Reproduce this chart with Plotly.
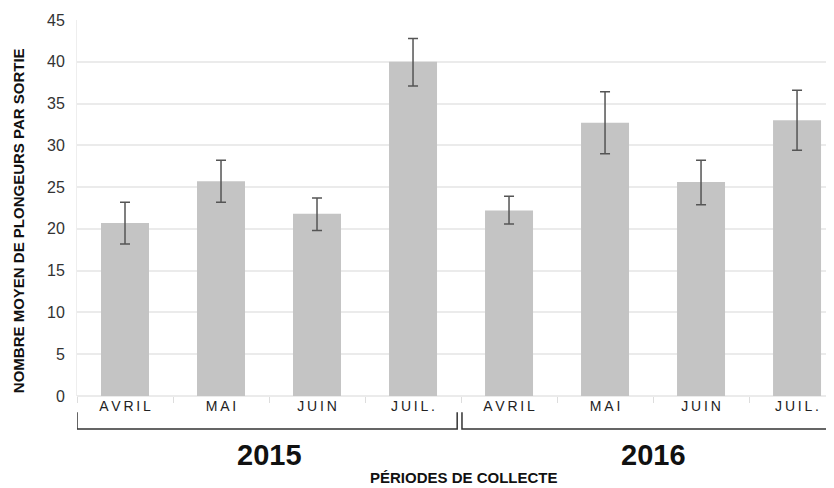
import plotly.graph_objects as go

# ─── data ─────────────────────────────────────────────────────────────────────
months = ["AVRIL", "MAI", "JUIN", "JUIL.", "AVRIL", "MAI", "JUIN", "JUIL."]
years = ["2015", "2015", "2015", "2015", "2016", "2016", "2016", "2016"]
mean_divers = [20.7, 25.7, 21.8, 40.0, 22.2, 32.7, 25.6, 33.0]
err_plus = [2.5, 2.5, 1.9, 2.8, 1.7, 3.7, 2.6, 3.6]
err_minus = [2.5, 2.5, 2.0, 2.9, 1.6, 3.7, 2.7, 3.6]
year_labels = ["2015", "2016"]
y_ticks = [0, 5, 10, 15, 20, 25, 30, 35, 40, 45]

_BAR_COLOR = "#c4c4c4"
_ERR_COLOR = "#555555"
_GRID_COLOR = "#ebebeb"
_TEXT_COLOR = "#222222"
_FONT = "Liberation Sans, Arial, sans-serif"

# the page body keeps its default 8 px margin, so the figure is sized to fit
_W, _H = 826, 480
_L, _T, _B = 69, 12, 92
_PLOT_W = _W - _L

cats = [f"{m} {y}" for m, y in zip(months, years)]
spaced = ["\u2009".join(m) for m in months]

fig = go.Figure()
fig.add_trace(
    go.Bar(
        x=cats,
        y=mean_divers,
        width=0.5,
        marker=dict(color=_BAR_COLOR, line=dict(width=0)),
        error_y=dict(
            type="data",
            symmetric=False,
            array=err_plus,
            arrayminus=err_minus,
            color=_ERR_COLOR,
            thickness=1.5,
            width=5,
        ),
        showlegend=False,
    )
)

# brackets grouping the months by year
bracket_y_top = -0.043
bracket_y_bot = -0.088
line_style = dict(color="#333333", width=1.5)
fig.add_shape(
    type="path",
    xref="x", yref="paper",
    path=f"M -0.5 {bracket_y_top} L -0.5 {bracket_y_bot} L 3.46 {bracket_y_bot} L 3.46 {bracket_y_top}",
    line=line_style,
)
fig.add_shape(
    type="path",
    xref="x", yref="paper",
    path=f"M 3.51 {bracket_y_top} L 3.51 {bracket_y_bot} L 7.39 {bracket_y_bot}",
    line=line_style,
)

for i, yr in enumerate(year_labels):
    fig.add_annotation(
        x=1.5 + 4 * i, xref="x",
        y=-0.157, yref="paper",
        xanchor="center", yanchor="middle",
        text=f"<b>{yr}</b>",
        showarrow=False,
        font=dict(family=_FONT, size=29, color="#111111"),
    )

fig.add_annotation(
    x=(464 - 8 - _L) / _PLOT_W, xref="paper", y=-0.217, yref="paper",
    xanchor="center", yanchor="middle",
    text="<b>PÉRIODES DE COLLECTE</b>",
    showarrow=False,
    font=dict(family=_FONT, size=15, color="#111111"),
)
fig.add_annotation(
    x=(18 - 8 - _L) / _PLOT_W, xref="paper", y=0.465, yref="paper",
    xanchor="center", yanchor="middle",
    text="<b>NOMBRE MOYEN DE PLONGEURS PAR SORTIE</b>",
    textangle=-90,
    showarrow=False,
    font=dict(family=_FONT, size=15, color="#111111"),
)

fig.update_layout(
    width=_W,
    height=_H,
    margin=dict(l=_L, r=0, t=_T, b=_B),
    paper_bgcolor="white",
    plot_bgcolor="white",
    font=dict(family=_FONT, color=_TEXT_COLOR),
    xaxis=dict(
        type="category",
        tickvals=cats,
        ticktext=spaced,
        range=[-0.5, 7.385],
        tickson="boundaries",
        ticks="outside",
        ticklen=6,
        tickcolor="#dddddd",
        tickfont=dict(size=14, color=_TEXT_COLOR),
        showgrid=False,
        showline=False,
    ),
    yaxis=dict(
        range=[0, 45],
        tickvals=y_ticks,
        ticks="outside",
        ticklen=8,
        tickcolor="white",
        tickfont=dict(size=16, color="#333333"),
        showgrid=True,
        gridcolor=_GRID_COLOR,
        gridwidth=1.5,
        zeroline=True,
        zerolinecolor=_GRID_COLOR,
        zerolinewidth=1.5,
        showline=True,
        linecolor="#eeeeee",
    ),
)

fig.write_html("out.html")
